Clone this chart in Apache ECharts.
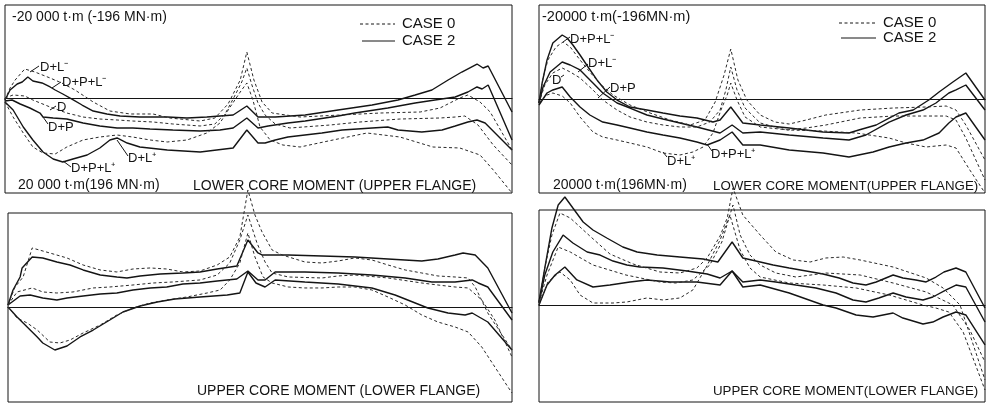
<!DOCTYPE html>
<html><head><meta charset="utf-8">
<script src="https://cdn.jsdelivr.net/npm/echarts@6/dist/echarts.min.js"></script>
<style>html,body{margin:0;padding:0;background:#fff}#c{width:986px;height:403px}</style>
</head><body><div id="c"></div>
<script>
// x = position along the span (% of span), y = moment in t·m (negative plotted upward, as in the original)
// ---- Top-left panel: LOWER CORE MOMENT (UPPER FLANGE) ----
const tl_c2_a = [[0,430],[1.0,-1720],[2.4,-3010],[3.4,-3440],[4.5,-4520],[5.5,-3660],[7.3,-3230],[8.9,-2370],[9.9,-1720],[11.4,-860],[13.2,220],[15.2,1510],[17.4,2800],[20.1,3440],[22.7,3870],[26.6,4090],[32.0,4090],[35.9,4300],[39.8,4090],[45.0,3660],[47.7,1720],[49.9,4090],[53.3,4090],[59.2,3660],[65.7,2580],[72.4,1510],[77.5,430],[80.9,-650],[84.2,-1720],[87.4,-3870],[90.1,-5590],[93.1,-7310],[94.3,-6450],[95.3,-6880],[100,3010]];
const tl_c2_b = [[0,650],[1.4,430],[3.0,1290],[4.9,2150],[6.9,3230],[7.5,4090],[9.5,4300],[12.2,4520],[15.4,5380],[18.7,6020],[22.1,6450],[25.2,6450],[28.6,6670],[33.1,6880],[38.5,7100],[42.4,6880],[45.0,6450],[47.7,4300],[49.9,6450],[51.9,6020],[55.8,5380],[59.2,4950],[65.7,3870],[69.0,3230],[75.5,2150],[80.9,1080],[84.8,430],[88.8,-220],[91.3,-1290],[93.1,-2370],[94.1,-1940],[95.3,-2800],[100,9030]];
const tl_c2_c = [[0,860],[1.6,2580],[3.6,6240],[5.5,9030],[7.5,11610],[9.5,13120],[11.4,13760],[13.4,13120],[16.2,12260],[18.7,10750],[20.7,9030],[22.1,8600],[24.1,9680],[26.6,10540],[32.0,11180],[38.5,11610],[45.0,10750],[47.7,6880],[49.9,9680],[51.3,9680],[53.3,9030],[55.8,8390],[62.5,7530],[66.5,6880],[72.4,6450],[75.5,6240],[77.5,6880],[82.2,7310],[86.2,6880],[88.8,6020],[91.3,5160],[93.1,4730],[94.7,5380],[100,11180]];
const tl_c0_a = [[0,430],[1.0,-2150],[2.0,-3870],[3.9,-6240],[5.9,-5590],[8.9,-4300],[11.2,-3230],[13.8,-1720],[17.4,860],[20.7,2800],[24.7,3440],[29.2,3440],[32.5,4300],[38.5,4950],[41.4,4300],[44.0,1290],[46.4,-3870],[47.7,-9890],[49.1,-3870],[50.7,860],[52.7,3230],[58.2,4090],[66.1,3660],[74.0,3230],[81.9,3010],[85.8,2150],[89.7,0],[91.3,-650],[93.7,860],[95.7,3010],[100,11180]];
const tl_c0_b = [[0,0],[1.6,-650],[3.9,-430],[5.5,430],[8.9,1940],[12.2,3230],[15.4,4090],[18.7,4520],[22.1,4730],[25.2,4950],[29.2,5160],[33.1,5590],[38.5,6020],[41.4,5590],[43.4,3440],[45.2,-220],[46.7,-3440],[47.7,-6450],[48.7,-2800],[49.9,1080],[51.3,3660],[53.3,5590],[56.2,6450],[64.1,5810],[70.0,5160],[77.9,4520],[85.8,4300],[88.8,4090],[90.7,3870],[93.3,5810],[96.3,10110],[100,14410]];
const tl_c0_c = [[0,860],[1.6,4090],[3.6,7530],[5.5,10540],[7.5,11830],[9.9,12040],[12.2,10540],[15.4,9030],[18.7,8390],[22.1,7960],[25.2,8390],[28.6,9030],[32.0,9460],[35.9,9030],[39.8,7530],[42.4,5380],[44.4,1940],[46.4,-1290],[47.7,-3230],[48.9,430],[50.3,6240],[52.3,9030],[54.8,10110],[58.2,10540],[64.7,9030],[71.4,7530],[77.9,8390],[84.4,10540],[89.7,10750],[93.7,12260],[96.3,15480],[100,20430]];
// ---- Top-right panel ----
const tr_c2_a = [[0,860],[0.7,-3440],[1.8,-8390],[3.1,-12040],[5.2,-13760],[6.3,-13120],[7.6,-11610],[9.2,-9460],[11.0,-6880],[13.0,-4090],[15.2,-1510],[17.5,220],[20.4,1720],[24.2,2370],[27.8,3010],[31.6,3660],[35.4,4090],[39.0,4950],[40.6,4520],[43.0,1720],[45.7,5160],[49.6,5590],[56.1,6240],[63.7,7100],[69.5,7310],[71.7,6670],[75.6,5590],[78.5,4090],[80.7,3010],[83.9,2370],[87.4,220],[89.7,-1510],[92.8,-3660],[95.7,-5590],[100,220]];
const tr_c2_b = [[0,860],[0.9,-2580],[2.5,-5810],[5.2,-7960],[7.0,-7310],[9.2,-6240],[12.1,-3440],[14.3,-1290],[17.5,860],[20.4,1940],[24.2,3440],[27.8,4300],[31.6,5160],[35.4,6020],[40.6,7310],[43.3,5590],[45.7,7310],[49.6,7100],[56.1,7740],[63.7,8390],[69.5,8820],[73.3,7740],[78.5,4950],[82.3,3440],[86.1,2370],[89.0,860],[91.9,-1290],[93.5,-1940],[95.7,-3010],[100,2370]];
const tr_c2_c = [[0,1290],[1.8,-1290],[3.1,-1940],[5.2,-2580],[7.0,-430],[9.2,1720],[11.4,3440],[14.3,4950],[17.5,5590],[20.4,6240],[24.2,7100],[27.8,7740],[31.6,8390],[35.4,9250],[37.7,9890],[40.6,8820],[43.3,7100],[45.7,9890],[49.6,9890],[56.1,10970],[63.7,11610],[69.5,12470],[74.9,11400],[78.5,10320],[82.3,9460],[86.1,8820],[89.7,7310],[91.9,5160],[93.5,3870],[95.7,3010],[100,8820]];
const tr_c0_a = [[0,860],[0.9,-4520],[2.0,-8390],[3.8,-11180],[5.4,-12260],[7.0,-11180],[9.2,-8390],[11.4,-5810],[13.7,-3230],[16.6,-860],[20.4,1290],[24.9,3010],[29.4,4520],[33.9,5590],[37.2,4520],[39.5,650],[41.5,-5160],[43.0,-10750],[44.6,-4090],[46.6,220],[49.6,3440],[52.9,4950],[56.1,5380],[59.9,4520],[64.3,3440],[72.0,2370],[79.4,1940],[86.8,1720],[91.3,1510],[93.5,2370],[95.7,5590],[100,13120]];
const tr_c0_b = [[0,860],[1.3,-3010],[3.1,-5590],[5.2,-6670],[7.0,-5810],[9.2,-4520],[12.1,-1940],[14.3,220],[17.5,2370],[20.4,3870],[24.2,4950],[27.8,5590],[31.6,6020],[35.4,6020],[38.3,4950],[40.6,2370],[41.9,-1940],[43.0,-6880],[44.4,-1940],[46.2,1940],[49.6,5160],[55.4,6670],[59.9,6240],[64.3,5590],[72.0,4090],[79.4,3660],[86.8,3660],[91.3,3660],[93.5,4520],[95.7,8390],[100,17420]];
const tr_c0_c = [[0,860],[1.8,-860],[3.1,-1290],[5.2,-650],[7.0,860],[9.2,3870],[12.1,7100],[14.3,8170],[17.5,8820],[20.4,9460],[24.2,10320],[27.8,11610],[31.6,12040],[34.5,11400],[36.8,10320],[39.0,7310],[40.8,2370],[42.2,-860],[43.0,-3440],[44.4,220],[46.2,3870],[49.6,6020],[56.1,6670],[63.7,6880],[71.1,7310],[78.5,8390],[82.3,9460],[86.8,10320],[91.3,9890],[93.5,10540],[96.6,15270],[100,20210]];
// ---- Bottom-left panel: UPPER CORE MOMENT (LOWER FLANGE) ----
const bl_c2_a = [[0,-430],[1.0,-3660],[2.4,-6450],[2.8,-8390],[4.8,-10750],[6.9,-10540],[9.7,-9680],[12.3,-9030],[14.9,-7960],[18.3,-6880],[21.6,-6450],[23.6,-6240],[26.2,-6670],[30.2,-7100],[34.7,-7310],[38.1,-7530],[41.5,-8170],[45.4,-8820],[47.6,-14410],[49.6,-11610],[50.4,-11180],[55.6,-11180],[62.3,-10970],[68.8,-10750],[75.4,-10320],[82.1,-9890],[85.3,-10320],[88.7,-11180],[90.3,-11610],[92.7,-11180],[95.2,-8390],[100,1290]];
const bl_c2_b = [[0,-430],[2.4,-2370],[4.4,-2580],[6.9,-1940],[9.7,-1510],[11.7,-1940],[14.9,-2370],[18.3,-2800],[21.6,-3010],[24.8,-3660],[28.2,-4090],[31.5,-4300],[34.7,-4950],[38.1,-5160],[41.5,-5590],[45.4,-6020],[47.6,-7740],[49.6,-5810],[51.0,-5810],[53.0,-7530],[58.9,-7530],[65.5,-7310],[72.2,-6880],[78.8,-6240],[84.1,-5380],[88.7,-5380],[92.1,-5810],[93.3,-5160],[95.2,-4300],[100,2800]];
const bl_c2_c = [[0,0],[1.8,2150],[3.8,4300],[5.8,6450],[6.9,7740],[9.3,9250],[11.7,8390],[14.3,6450],[16.9,4950],[20.2,2800],[22.8,1080],[26.2,-220],[29.6,-1080],[33.1,-1720],[38.1,-2150],[43.5,-2580],[46.0,-3010],[47.6,-7530],[49.2,-5160],[51.0,-4300],[53.0,-5810],[58.9,-5380],[65.5,-4950],[72.2,-4090],[76.8,-2580],[80.8,-860],[83.3,220],[87.3,1290],[90.7,1720],[92.1,1290],[95.2,3230],[100,9250]];
const bl_c0_a = [[0,-430],[1.4,-4300],[3.0,-6450],[4.8,-12690],[8.3,-11610],[11.7,-10540],[14.9,-9030],[18.3,-7960],[21.6,-7530],[24.8,-8170],[28.2,-8390],[31.5,-8170],[34.7,-7530],[38.1,-7740],[41.5,-9030],[44.0,-10750],[46.0,-15050],[47.6,-25160],[49.0,-19780],[50.4,-16130],[52.4,-12260],[54.4,-11180],[58.9,-9680],[62.3,-9460],[65.5,-9890],[68.8,-10540],[72.2,-10110],[75.4,-9030],[78.8,-7960],[82.1,-7310],[85.3,-6670],[88.7,-6450],[91.3,-6240],[92.7,-4300],[95.2,1290],[100,9250]];
const bl_c0_b = [[0,-430],[1.8,-3230],[4.8,-4090],[6.9,-3230],[9.7,-3010],[12.9,-3230],[16.9,-4090],[20.2,-4300],[24.8,-4730],[28.8,-5160],[32.7,-5380],[38.1,-5810],[41.5,-6880],[44.0,-9460],[46.0,-14410],[47.6,-19780],[49.4,-13760],[51.0,-9680],[52.4,-7310],[55.6,-6450],[62.3,-6240],[65.5,-6670],[68.8,-6880],[75.4,-6240],[82.1,-5160],[85.3,-4730],[88.7,-4300],[91.3,-4090],[94.0,-1510],[96.6,2800],[100,10750]];
const bl_c0_c = [[0,0],[1.8,2370],[3.8,3440],[5.8,4950],[8.3,7530],[10.3,7740],[12.3,7100],[14.9,5590],[18.3,3870],[21.6,1720],[24.8,220],[28.2,-860],[31.5,-1510],[35.5,-2150],[39.5,-3010],[42.1,-3660],[44.0,-5810],[46.0,-9460],[47.6,-15910],[49.0,-10750],[50.6,-6450],[52.4,-5160],[55.6,-4300],[58.9,-4090],[62.3,-4090],[65.5,-4300],[68.8,-4300],[72.2,-3660],[75.4,-2150],[78.8,-430],[82.1,1720],[85.3,3230],[88.7,4300],[91.3,5380],[94.0,8600],[96.6,12900],[99.2,17200],[100,18490]];
// ---- Bottom-right panel ----
const br_c2_a = [[0,-650],[1.3,-7960],[2.9,-16560],[4.3,-21500],[5.8,-23220],[7.6,-20860],[9.9,-17850],[12.1,-16130],[15.2,-14410],[18.8,-12470],[22.0,-11400],[26.5,-10750],[31.6,-10320],[36.8,-9890],[40.1,-9250],[43.3,-13550],[45.7,-10110],[49.6,-9250],[52.5,-8600],[56.1,-7960],[59.9,-7310],[63.7,-6670],[67.3,-5810],[70.4,-4730],[73.3,-4300],[75.6,-4950],[79.4,-6450],[81.6,-5810],[84.5,-5380],[86.8,-4950],[89.0,-6020],[90.8,-7100],[93.5,-7960],[95.7,-7100],[100,650]];
const br_c2_b = [[0,-430],[1.3,-6450],[3.1,-11400],[5.4,-15050],[7.6,-13330],[10.8,-11400],[13.7,-10750],[16.6,-9460],[19.7,-8600],[22.6,-8170],[27.8,-7960],[33.2,-7310],[37.7,-6670],[40.6,-5810],[43.3,-7310],[45.7,-4950],[49.6,-5380],[53.1,-4950],[57.6,-4300],[62.1,-3660],[66.6,-2580],[70.4,-1080],[73.3,-650],[76.2,-1510],[79.4,-2580],[82.3,-1720],[86.1,-1080],[88.3,-1720],[91.3,-3230],[93.5,-4300],[95.7,-3870],[100,3660]];
const br_c2_c = [[0,0],[1.8,-4300],[3.6,-6450],[5.8,-8170],[8.5,-5380],[12.1,-3870],[15.9,-4300],[20.4,-4950],[24.2,-5380],[29.4,-4950],[35.4,-4950],[40.6,-4300],[43.3,-7310],[45.7,-3870],[49.6,-4300],[56.1,-2580],[63.7,0],[66.6,650],[71.1,2150],[74.9,2580],[79.4,1720],[81.6,2800],[86.1,4090],[88.3,3660],[90.6,2580],[93.5,1510],[95.7,2150],[100,8600]];
const br_c0_a = [[0,-650],[1.3,-7960],[2.9,-15050],[4.7,-19780],[7.0,-18710],[11.4,-14840],[15.9,-10970],[21.1,-8820],[27.1,-7100],[31.6,-6880],[35.4,-7960],[37.7,-10110],[40.6,-14840],[42.2,-18710],[43.5,-25160],[45.7,-19350],[49.6,-15050],[53.1,-11400],[57.0,-9680],[60.8,-9250],[64.3,-10110],[68.2,-10320],[72.0,-9680],[79.4,-8170],[86.8,-5810],[90.6,-3660],[94.4,0],[100,16130]];
const br_c0_b = [[0,-430],[1.8,-6450],[4.3,-12470],[7.0,-11400],[12.1,-8600],[19.5,-6450],[27.1,-4950],[30.7,-4730],[34.5,-5380],[38.3,-8600],[41.0,-13550],[42.8,-19350],[43.5,-21500],[45.1,-15050],[47.3,-10750],[49.6,-8600],[53.1,-6880],[57.6,-6020],[64.3,-6880],[72.0,-6450],[79.4,-4730],[86.8,-2800],[92.8,0],[96.6,5380],[100,12260]];
const br_c0_c = [[0,0],[2.0,-4950],[4.7,-7100],[7.0,-5380],[9.2,-2150],[12.1,-430],[16.6,-430],[19.7,-650],[24.2,-1510],[27.8,-1080],[31.6,-1510],[34.5,-3230],[37.4,-7960],[40.6,-13980],[42.8,-19350],[45.1,-11830],[47.3,-7960],[49.6,-6020],[56.1,-4730],[63.7,-4300],[71.1,-3660],[78.5,-2150],[82.3,-1080],[86.1,0],[89.0,650],[91.9,1510],[95.1,5810],[100,18280]];

// scale labels, titles, legend names (text)
const titles = ["LOWER CORE MOMENT (UPPER FLANGE)","LOWER CORE MOMENT(UPPER FLANGE)","UPPER CORE MOMENT (LOWER FLANGE)","UPPER CORE MOMENT(LOWER FLANGE)"];
const topScale = ["-20 000 t·m (-196 MN·m)","-20000 t·m(-196MN·m)"];
const bottomScale = ["20 000 t·m(196 MN·m)","20000 t·m(196MN·m)"];
const legendNames = ["CASE 0","CASE 2"];

// panel layout
const panels = [
  {left:5,  top:5,   width:507, height:188, min:-20000, max:20430, c2:[tl_c2_a,tl_c2_b,tl_c2_c], c0:[tl_c0_a,tl_c0_b,tl_c0_c]},
  {left:539,top:5,   width:446, height:188, min:-20210, max:20210, c2:[tr_c2_a,tr_c2_b,tr_c2_c], c0:[tr_c0_a,tr_c0_b,tr_c0_c]},
  {left:8,  top:213, width:504, height:189, min:-20210, max:20430, c2:[bl_c2_a,bl_c2_b,bl_c2_c], c0:[bl_c0_a,bl_c0_b,bl_c0_c]},
  {left:539,top:210, width:446, height:192, min:-20430, max:20860, c2:[br_c2_a,br_c2_b,br_c2_c], c0:[br_c0_a,br_c0_b,br_c0_c]}
];

const INK = '#141414';
const grids = [], xAxes = [], yAxes = [], series = [];
panels.forEach((p, i) => {
  grids.push({left:p.left, top:p.top, width:p.width, height:p.height, show:true, borderColor:INK, borderWidth:1, backgroundColor:'transparent', containLabel:false});
  xAxes.push({type:'value', gridIndex:i, min:0, max:100, axisLine:{show:true, onZero:true, lineStyle:{color:INK, width:1.2}}, axisTick:{show:false}, axisLabel:{show:false}, splitLine:{show:false}});
  yAxes.push({type:'value', gridIndex:i, inverse:true, min:p.min, max:p.max, axisLine:{show:false}, axisTick:{show:false}, axisLabel:{show:false}, splitLine:{show:false}});
  p.c2.forEach(d => series.push({type:'line', name:'CASE 2', xAxisIndex:i, yAxisIndex:i, data:d, symbol:'none', clip:false, silent:true, lineStyle:{color:INK, width:1.4}}));
  p.c0.forEach(d => series.push({type:'line', name:'CASE 0', xAxisIndex:i, yAxisIndex:i, data:d, symbol:'none', clip:false, silent:true, lineStyle:{color:'#2a2a2a', width:1, type:[3,2.5]}}));
});

const FONT = '"Liberation Sans", Arial, sans-serif';
const g = [];
function txt(t, x, y, size) {
  g.push({type:'text', x:x, y:y, silent:true, style:{text:t, fill:INK, font:size+'px '+FONT, textVerticalAlign:'middle', textAlign:'left'}});
}
function seg(x1,y1,x2,y2,dash) {
  g.push({type:'line', silent:true, shape:{x1,y1,x2,y2}, style:{stroke:INK, lineWidth:1, lineDash: dash || null}});
}
// scale & titles
txt(topScale[0], 12, 17, 14);
txt(topScale[1], 542, 17, 14.5);
txt(bottomScale[0], 18, 185, 14);
txt(bottomScale[1], 553, 185, 14);
txt(titles[0], 193, 186, 14);
txt(titles[1], 713, 186, 13.3);
txt(titles[2], 197, 391, 14);
txt(titles[3], 713, 391, 13.3);
// legends
seg(360,24,395,24,[3,2.5]); txt(legendNames[0], 402, 24, 15);
seg(362,41,395,41);         txt(legendNames[1], 402, 41, 15);
seg(839,23,876,23,[3,2.5]); txt(legendNames[0], 883, 23, 15);
seg(841,38,876,38);         txt(legendNames[1], 883, 38, 15);
// load-combination labels (top-left)
seg(30,72,39,66);  txt('D+L⁻', 40, 67, 13);
seg(52,88,61,82);  txt('D+P+L⁻', 62, 82, 13);
seg(50,110,56,106); txt('D', 57, 107, 13);
seg(43,117,48,124); txt('D+P', 48, 127, 13);
seg(63,161,71,167); txt('D+P+L⁺', 71, 168, 13);
seg(117,140,128,156); txt('D+L⁺', 128, 158, 13);
// load-combination labels (top-right)
seg(563,42,570,37); txt('D+P+L⁻', 570, 39, 13);
seg(578,72,588,64); txt('D+L⁻', 588, 63, 13);
txt('D', 552, 80, 13); seg(561,77,564,75);
seg(598,98,610,87); txt('D+P', 610, 88, 13);
seg(663,152,667,157); txt('D+L⁺', 667, 161, 13);
seg(707,144,712,151); txt('D+P+L⁺', 711, 154, 13);

const chart = echarts.init(document.getElementById('c'), null, {renderer:'canvas'});
chart.setOption({animation:false, backgroundColor:'#fff', grid:grids, xAxis:xAxes, yAxis:yAxes, series:series, graphic:g});
</script></body></html>
